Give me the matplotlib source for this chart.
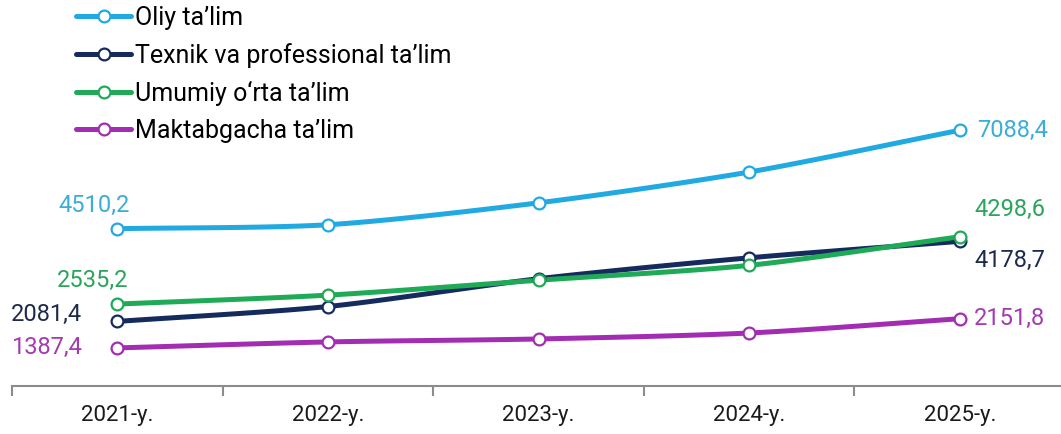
import numpy as np
import matplotlib.pyplot as plt

plt.rcParams['font.family'] = ['Roboto', 'DejaVu Sans']

years = ['2021-y.', '2022-y.', '2023-y.', '2024-y.', '2025-y.']
oliy = [4510.2, 4614, 5187, 5994, 7088.4]
texnik = [2081.4, 2472, 3200, 3747, 4178.7]
umumiy = [2535.2, 2770, 3160, 3550, 4298.6]
maktab = [1387.4, 1544, 1622, 1778, 2151.8]

names = ["Oliy ta\u2019lim", "Texnik va professional ta\u2019lim",
         "Umumiy o\u2018rta ta\u2019lim", "Maktabgacha ta\u2019lim"]
series = [oliy, texnik, umumiy, maktab]
colors = ['#21A9E1', '#152B5E', '#1FAA57', '#A22DB3']
label_colors = ['#3AAED6', '#1C2A4C', '#2AA55B', '#A33AB0']


def smooth(x, y, n=30):
    # catmull-rom style curve through the points (like excel smoothed line)
    x = np.asarray(x, float)
    y = np.asarray(y, float)
    px = np.concatenate([[2 * x[0] - x[1]], x, [2 * x[-1] - x[-2]]])
    py = np.concatenate([[2 * y[0] - y[1]], y, [2 * y[-1] - y[-2]]])
    xs, ys = [], []
    t = np.linspace(0, 1, n)
    for i in range(1, len(px) - 2):
        m1x = (px[i + 1] - px[i - 1]) / 2 * 0.8
        m2x = (px[i + 2] - px[i]) / 2 * 0.8
        m1y = (py[i + 1] - py[i - 1]) / 2 * 0.8
        m2y = (py[i + 2] - py[i]) / 2 * 0.8
        h00 = 2 * t**3 - 3 * t**2 + 1
        h10 = t**3 - 2 * t**2 + t
        h01 = -2 * t**3 + 3 * t**2
        h11 = t**3 - t**2
        xs.append(h00 * px[i] + h10 * m1x + h01 * px[i + 1] + h11 * m2x)
        ys.append(h00 * py[i] + h10 * m1y + h01 * py[i + 1] + h11 * m2y)
    return np.concatenate(xs), np.concatenate(ys)


fig = plt.figure(figsize=[10.61, 4.34], dpi=100)
ax = fig.add_axes([12 / 1061, 48 / 434, 1053 / 1061, 386 / 434])
x = np.arange(len(years))

handles = []
for s, c, nm in zip(series, colors, names):
    sx, sy = smooth(x, s)
    ax.plot(sx, sy, color=c, lw=3.6, solid_capstyle='round', zorder=2)
    ax.plot(x, s, 'o', ms=8.5, mfc='white', mec=c, mew=1.6, zorder=3)
    h, = ax.plot([], [], color=c, lw=3.6, marker='o', ms=8.5, mfc='white',
                 mec=c, mew=1.6, solid_capstyle='round')
    handles.append(h)

# data labels (first and last year)
first_off = [(-17, 17), (-51, 5), (-18, 17), (-51, 0)]
last_off = [(38, 0), (36, -14), (36, 20), (36, 0)]
for s, lc, fo, lo in zip(series, label_colors, first_off, last_off):
    ax.annotate(f"{s[0]:.1f}".replace('.', ','), (x[0], s[0]), xytext=fo,
                textcoords='offset points', color=lc, fontsize=17,
                ha='center', va='center')
    ax.annotate(f"{s[-1]:.1f}".replace('.', ','), (x[-1], s[-1]), xytext=lo,
                textcoords='offset points', color=lc, fontsize=17,
                ha='center', va='center')

ax.set_xlim(-0.5, 4.5)
ax.set_ylim(390, 10500)
for sp in ['top', 'right', 'left']:
    ax.spines[sp].set_visible(False)
ax.spines['bottom'].set_color('#8C8C8C')
ax.spines['bottom'].set_linewidth(1.5)
ax.set_yticks([])
ax.set_xticks(np.arange(-0.5, 4.5, 1.0))
ax.set_xticklabels([])
ax.set_xticks(x, minor=True)
ax.set_xticklabels(years, minor=True, fontsize=16, color='#1A1A1A')
ax.tick_params(axis='x', which='major', length=7, width=1.5, color='#8C8C8C')
ax.tick_params(axis='x', which='minor', length=0, pad=14)

ax.legend(handles, names, loc='upper left', bbox_to_anchor=(76 / 1061, 1 - 6 / 434),
          bbox_transform=fig.transFigure, frameon=False, fontsize=18,
          handlelength=2.2, handletextpad=0.15, labelspacing=0.52,
          borderaxespad=0.0, borderpad=0.0)

plt.savefig("out.png")
plt.close()
